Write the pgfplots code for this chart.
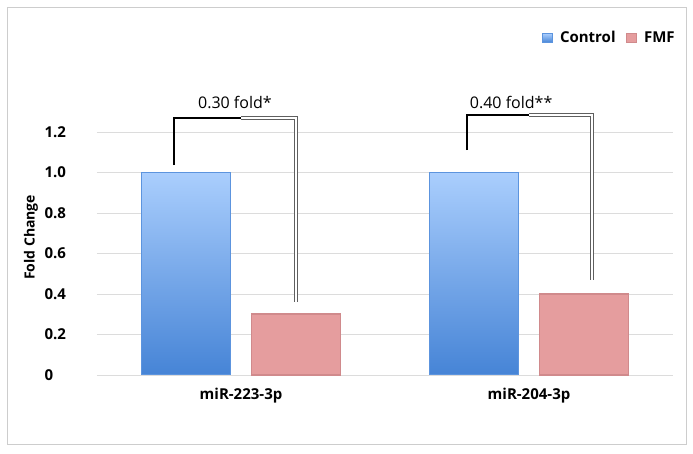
\documentclass[border=0pt]{standalone}
\usepackage{fontspec}
\setmainfont{Open Sans}
\usepackage{pgfplots}
\pgfplotsset{compat=1.18}

\definecolor{ctop}{RGB}{170,206,253}
\definecolor{cbot}{RGB}{70,132,214}
\definecolor{cedge}{RGB}{92,148,222}
\definecolor{fmf}{RGB}{229,157,158}
\definecolor{fmfedge}{RGB}{208,138,140}
\definecolor{gridc}{RGB}{220,220,220}
\definecolor{framec}{RGB}{205,205,205}
\definecolor{brk}{RGB}{95,95,95}

\begin{document}
\begin{tikzpicture}[x=1pt,y=1pt]
\useasboundingbox (0,0) rectangle (693,454);
\draw[framec, line width=0.8pt] (7,10) rectangle (686,447);
\begin{axis}[
  at={(97pt,79pt)}, anchor=south west,
  scale only axis, width=576pt, height=243pt,
  xmin=-0.5, xmax=1.5, ymin=0, ymax=1.2,
  ybar, bar width=89pt,
  axis line style={draw=none},
  major tick length=0pt,
  ytick={0,0.2,0.4,0.6,0.8,1.0,1.2},
  yticklabels={0,0.2,0.4,0.6,0.8,1.0,1.2},
  yticklabel style={anchor=west, xshift=-56pt, font=\bfseries\fontsize{15}{17}\selectfont},
  xtick={0,1}, xticklabels={miR-223-3p, miR-204-3p},
  xticklabel style={yshift=-10pt, font=\bfseries\fontsize{15}{17}\selectfont},
  ymajorgrids, grid style={gridc, line width=0.9pt},
  clip=false,
  ylabel={Fold Change},
  every axis y label/.style={at={(axis description cs:-0.1146,0.566)}, anchor=center, rotate=90,
    font=\bfseries\fontsize{14}{16}\selectfont},
  legend columns=2,
  legend style={draw=none, fill=none, at={(1.012,1.387)}, anchor=east,
    font=\bfseries\fontsize{15}{17}\selectfont,
    /tikz/every even column/.append style={column sep=8pt}},
  legend image code/.code={\fill[#1] (0pt,-4.5pt) rectangle (10pt,4.5pt); \path (15pt,0pt);},
]
\addplot[bar shift=-55pt, top color=ctop, bottom color=cbot, draw=cedge, line width=1pt]
  coordinates {(0,1.00) (1,1.00)};
\addplot[bar shift=55pt, fill=fmf, draw=fmfedge, line width=1.5pt]
  coordinates {(0,0.30) (1,0.40)};
\legend{Control, FMF}

% significance brackets
\draw[brk, line width=1pt, double=white, double distance=1.5pt]
  (axis cs:0.0,1.27) -- (axis cs:0.191,1.27) -- (axis cs:0.191,0.36);
\draw[black, line width=1.6pt] (axis cs:-0.233,1.037) -- (axis cs:-0.233,1.27) -- (axis cs:0.0,1.27);
\node[font=\fontsize{16}{19}\selectfont] at (axis cs:-0.021,1.348) {0.30 fold*};

\draw[brk, line width=1pt, double=white, double distance=1.5pt]
  (axis cs:1.0,1.284) -- (axis cs:1.219,1.284) -- (axis cs:1.219,0.47);
\draw[black, line width=1.6pt] (axis cs:0.785,1.11) -- (axis cs:0.785,1.284) -- (axis cs:1.0,1.284);
\node[font=\fontsize{16}{19}\selectfont] at (axis cs:0.938,1.348) {0.40 fold**};
\end{axis}
\end{tikzpicture}
\end{document}
